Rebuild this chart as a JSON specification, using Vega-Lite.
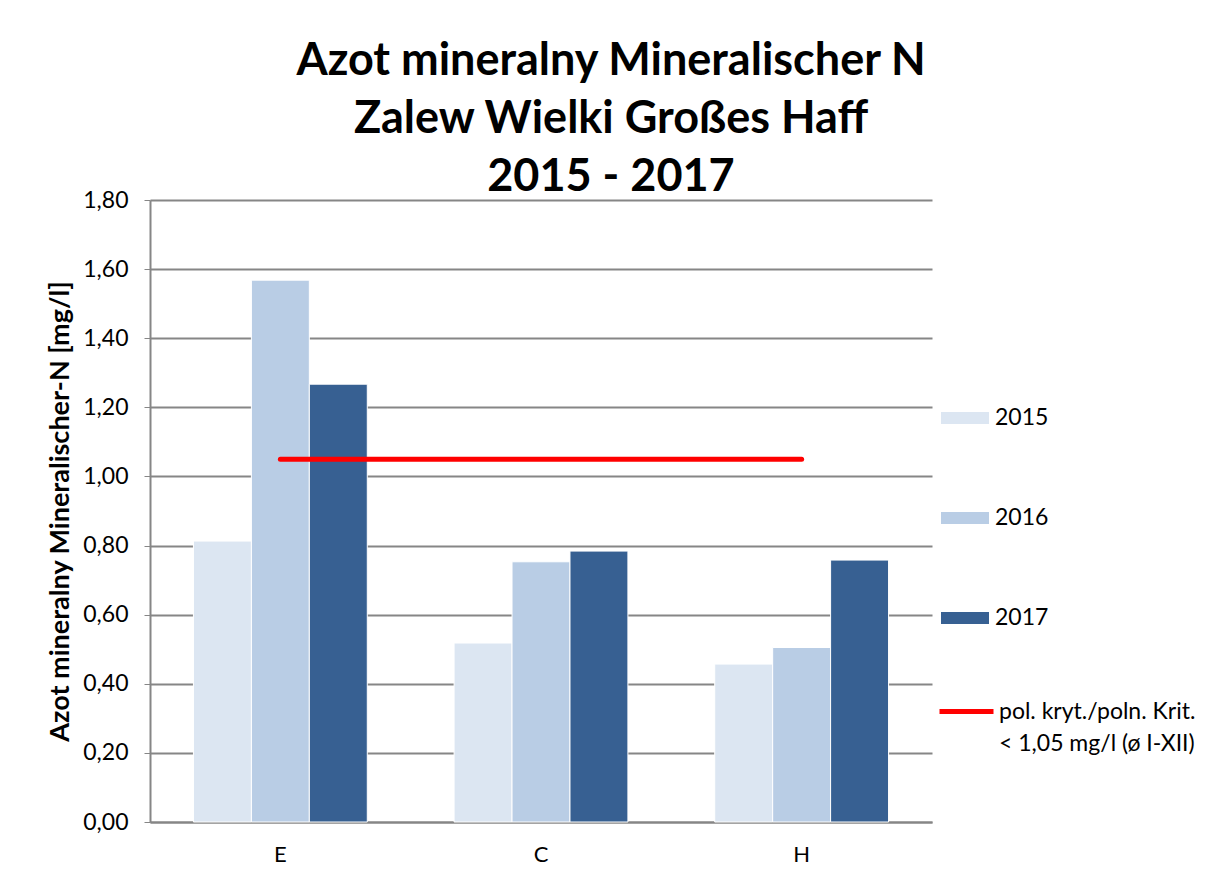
{
  "$schema": "https://vega.github.io/schema/vega-lite/v6.json",
  "width": 782,
  "height": 622,
  "autosize": "none",
  "padding": {"left": 150, "top": 200, "right": 286, "bottom": 64},
  "background": "white",
  "title": {
    "text": ["Azot mineralny  Mineralischer N", "Zalew Wielki Großes Haff", "2015 - 2017"],
    "font": "Lato",
    "fontSize": 45,
    "fontWeight": "bold",
    "lineHeight": 58,
    "color": "#000000",
    "anchor": "middle",
    "dx": 70,
    "offset": -11
  },
  "config": {
    "font": "Lato",
    "view": {"stroke": null},
    "style": {"guide-label": {"lineHeight": 32}}
  },
  "layer": [
    {
      "data": {
        "values": [
          {"station": "E", "year": "2015", "value": 0.813},
          {"station": "E", "year": "2016", "value": 1.568},
          {"station": "E", "year": "2017", "value": 1.267},
          {"station": "C", "year": "2015", "value": 0.518},
          {"station": "C", "year": "2016", "value": 0.753},
          {"station": "C", "year": "2017", "value": 0.784},
          {"station": "H", "year": "2015", "value": 0.457},
          {"station": "H", "year": "2016", "value": 0.505},
          {"station": "H", "year": "2017", "value": 0.758}
        ]
      },
      "mark": {"type": "bar", "stroke": "white", "strokeWidth": 1},
      "encoding": {
        "x": {
          "field": "station",
          "type": "nominal",
          "scale": {"domain": ["E", "C", "H"], "paddingInner": 0.333, "paddingOuter": 0.1667},
          "axis": {
            "title": null,
            "labelAngle": 0,
            "labelFontSize": 22,
            "labelColor": "#000000",
            "labelPadding": 22,
            "ticks": false,
            "domainColor": "#868686",
            "domainWidth": 2
          }
        },
        "xOffset": {
          "field": "year",
          "type": "nominal",
          "scale": {"paddingInner": 0, "paddingOuter": 0}
        },
        "y": {
          "field": "value",
          "type": "quantitative",
          "scale": {"domain": [0, 1.8], "nice": false},
          "axis": {
            "title": "Azot mineralny  Mineralischer-N [mg/l]",
            "titleFontSize": 27,
            "titleFontWeight": "bold",
            "titleColor": "#000000",
            "titlePadding": 8,
            "values": [0, 0.2, 0.4, 0.6, 0.8, 1.0, 1.2, 1.4, 1.6, 1.8],
            "labelExpr": "replace(format(datum.value, '.2f'), '.', ',')",
            "labelFontSize": 23,
            "labelColor": "#000000",
            "labelPadding": 16,
            "tickColor": "#868686",
            "tickSize": 6,
            "domainColor": "#868686",
            "domainWidth": 2,
            "gridColor": "#868686",
            "gridWidth": 2,
            "grid": true
          }
        },
        "fill": {
          "field": "year",
          "type": "nominal",
          "scale": {"domain": ["2015", "2016", "2017"], "range": ["#DCE6F2", "#B9CDE5", "#376092"]},
          "legend": {
            "title": null,
            "orient": "none",
            "legendX": 791,
            "legendY": 194,
            "symbolType": "M-1,-0.25H1V0.25H-1Z",
            "symbolSize": 2304,
            "symbolStrokeWidth": 0,
            "labelFontSize": 23,
            "labelColor": "#000000",
            "labelOffset": 6,
            "rowPadding": 64
          }
        }
      }
    },
    {
      "data": {
        "values": [
          {"from": "E", "to": "H", "value": 1.05, "label": "pol. kryt./poln. Krit.|< 1,05 mg/l (ø I-XII)"}
        ]
      },
      "mark": {"type": "rule", "strokeWidth": 5, "strokeCap": "round"},
      "encoding": {
        "x": {"field": "from", "type": "nominal", "bandPosition": 0.5},
        "x2": {"field": "to", "bandPosition": 0.5},
        "y": {"field": "value", "type": "quantitative"},
        "stroke": {
          "field": "label",
          "type": "nominal",
          "scale": {"range": ["#FF0000"]},
          "legend": {
            "title": null,
            "orient": "none",
            "legendX": 787,
            "legendY": 482,
            "symbolType": "stroke",
            "symbolSize": 2916,
            "symbolStrokeWidth": 5,
            "labelFontSize": 23,
            "labelColor": "#000000",
            "labelOffset": 3,
            "labelLimit": 300,
            "labelExpr": "split(datum.label, '|')"
          }
        }
      }
    }
  ]
}
